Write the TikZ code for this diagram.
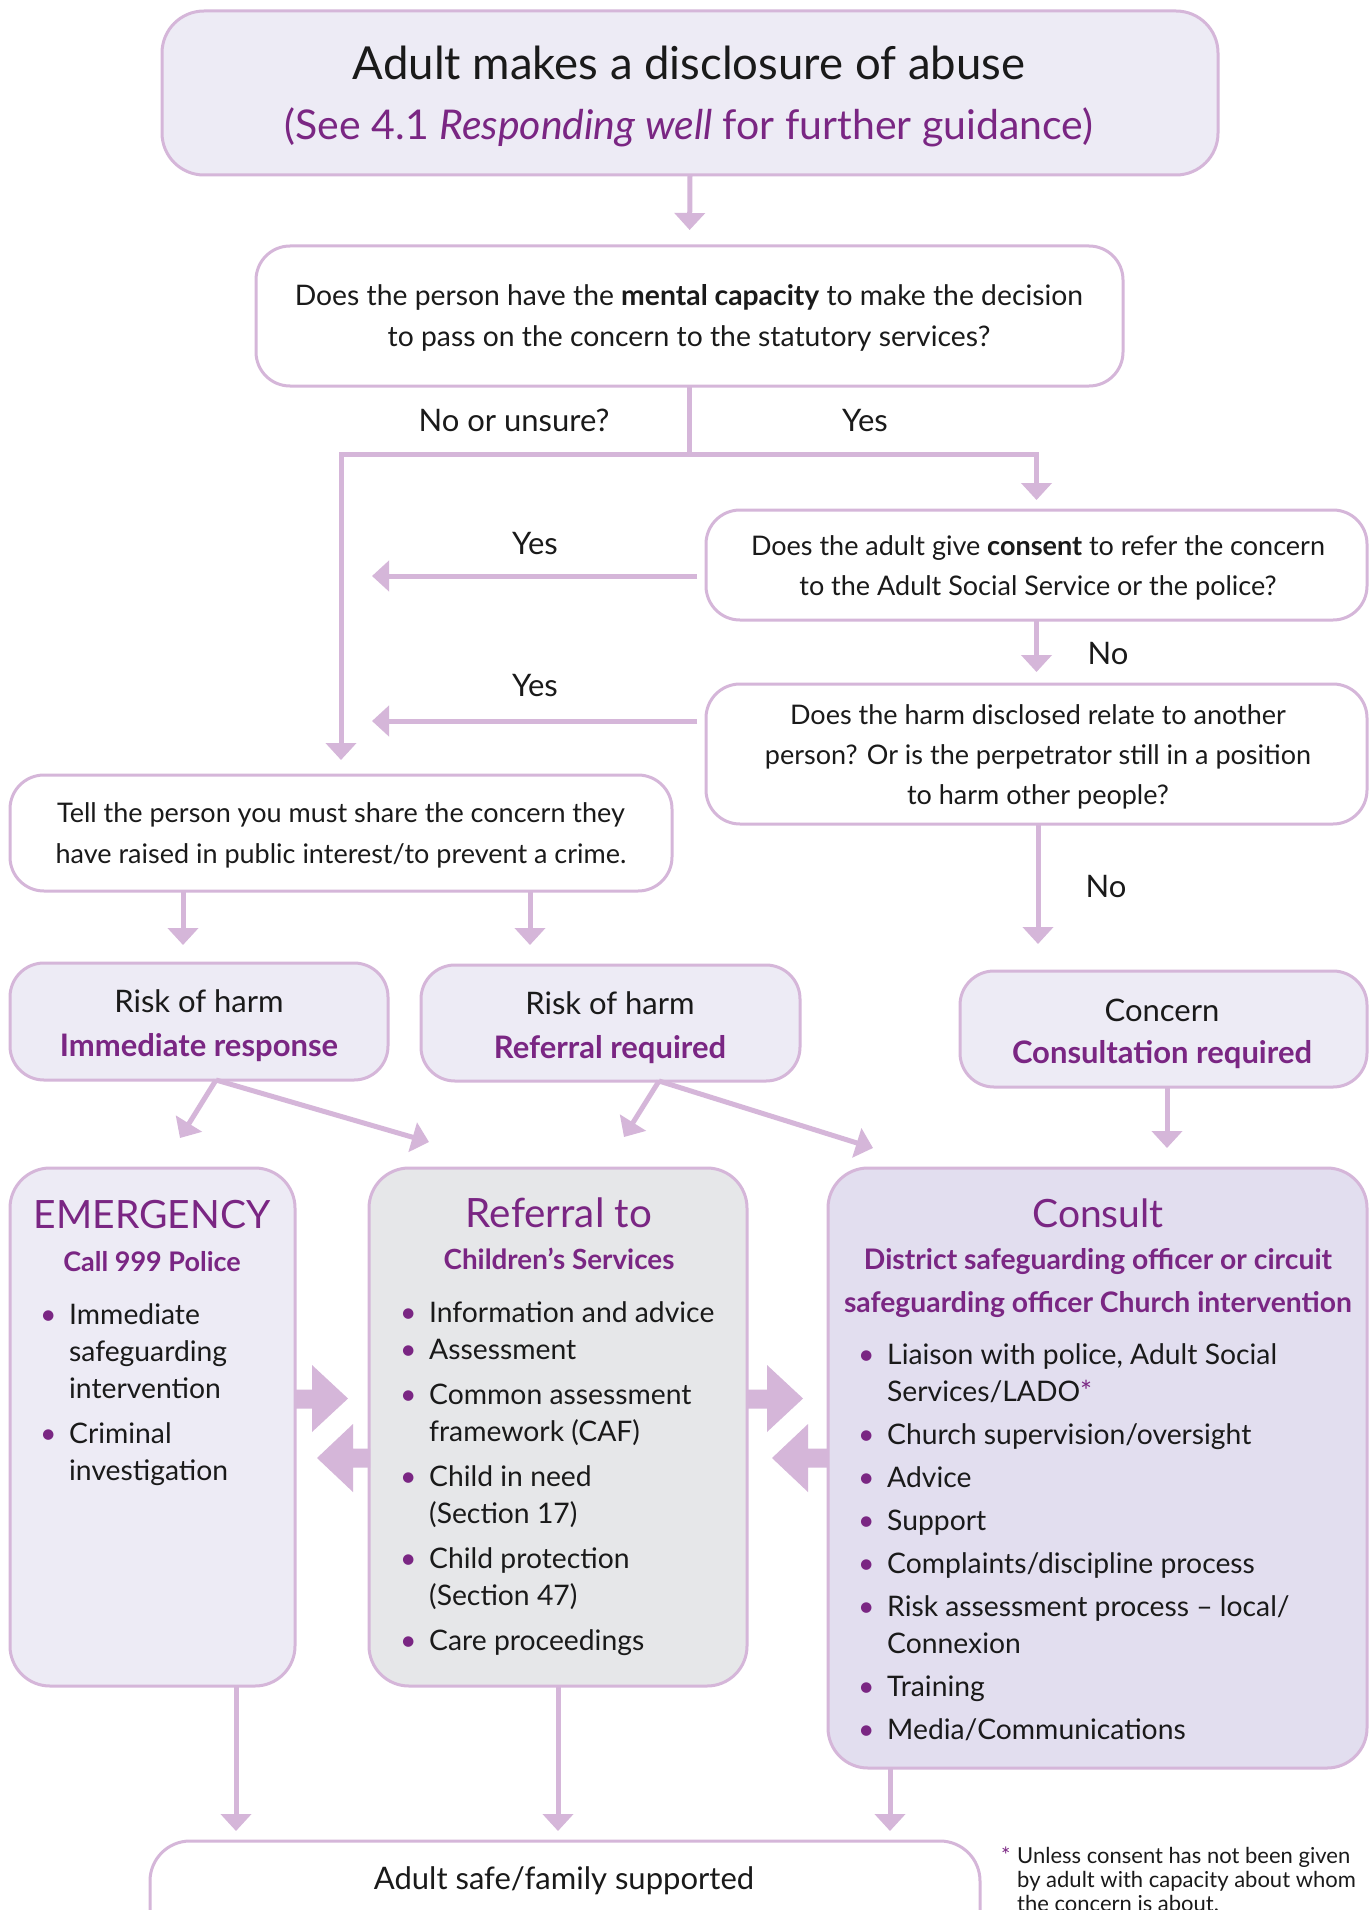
\documentclass[tikz,border=0pt]{standalone}
\usepackage{fontspec}
\setmainfont{Lato}
\usetikzlibrary{arrows.meta,calc}
\definecolor{linec}{HTML}{D5B6D9}
\definecolor{lav}{HTML}{EDEBF5}
\definecolor{lavdark}{HTML}{E2DEEF}
\definecolor{greyfill}{HTML}{E6E7E9}
\definecolor{purp}{HTML}{7A2683}
\definecolor{ink}{HTML}{1A1A1A}
\newcommand\fs[2]{\fontsize{#1}{#2}\selectfont}
\newcommand\mlines[2]{\begin{minipage}[t]{#1}\centering #2\end{minipage}}
\newcommand\bitem[1]{\par\noindent\llap{\makebox[29pt][l]{\textcolor{purp}{•}}}#1}
\newcommand\igap[1]{\par\vspace{#1}}
\newenvironment{blist}[1]{\begin{minipage}[t]{#1}\raggedright\leftskip=29pt\relax}{\end{minipage}}
\tikzset{
 box/.style={draw=linec, line width=3pt, rounded corners=34pt, inner sep=0pt, outer sep=0pt},
 conn/.style={draw=linec, line width=5pt, -{Triangle[length=17pt,width=30pt]}},
 plain/.style={draw=linec, line width=5pt},
 txt/.style={anchor=base, inner sep=0pt, text=ink},
 listtxt/.style={anchor=base west, inner sep=0pt, text=ink},
 blockarrow/.style={fill=linec},
}
\begin{document}
\begin{tikzpicture}[x=1pt,y=-1pt]
\useasboundingbox (0,0) rectangle (1370,1910);
\fill[white] (0,0) rectangle (1370,1910);
\clip (0,0) rectangle (1370,1910);

% boxes
\node[box, fill=lav, rounded corners=42pt, minimum width=1056pt, minimum height=164pt] (top) at (690,93) {};
\node[box, fill=white, minimum width=867pt, minimum height=140pt] (q1) at (689.5,316) {};
\node[box, fill=white, minimum width=661pt, minimum height=110pt] (consent) at (1036.5,565) {};
\node[box, fill=white, minimum width=661pt, minimum height=140pt] (harm) at (1036.5,754) {};
\node[box, fill=white, minimum width=662pt, minimum height=116pt] (tell) at (341,833) {};
\node[box, fill=lav, minimum width=378pt, minimum height=117pt] (risk1) at (199,1021.5) {};
\node[box, fill=lav, minimum width=379pt, minimum height=116pt] (risk2) at (610.5,1023) {};
\node[box, fill=lav, minimum width=407pt, minimum height=116pt] (concern) at (1163.5,1029) {};
\node[box, fill=lav, rounded corners=40pt, minimum width=285pt, minimum height=518pt] (emerg) at (152.5,1427) {};
\node[box, fill=greyfill, rounded corners=40pt, minimum width=378pt, minimum height=518pt] (ref) at (558,1427) {};
\node[box, fill=lavdark, rounded corners=40pt, minimum width=539pt, minimum height=600pt] (consult) at (1097.5,1468) {};
\node[box, fill=white, rounded corners=40pt, minimum width=830pt, minimum height=140pt] (bottom) at (565,1911) {};

% texts
\node[txt, font=\fs{45.5}{50}] (t1) at (689,80) {Adult makes a disclosure of abuse};
\node[txt, font=\fs{41}{46}, text=purp] (t2) at (689,140) {(See 4.1 \textit{Responding well} for further guidance)};
\node[txt, font=\fs{28.3}{41}] (q1t) at (689,305) {\mlines{860pt}{Does the person have the \textbf{mental capacity} to make the decision\\to pass on the concern to the statutory services?}};
\node[txt, font=\fs{31}{34}] (lno) at (514,431) {No or unsure?};
\node[txt, font=\fs{31}{34}] (lyes) at (865,431) {Yes};
\node[txt, font=\fs{31}{34}] (lyes1) at (535,554) {Yes};
\node[txt, font=\fs{31}{34}] (lno1) at (1108,664) {No};
\node[txt, font=\fs{31}{34}] (lyes2) at (535,696) {Yes};
\node[txt, font=\fs{31}{34}] (lno2) at (1106,897) {No};
\node[txt, font=\fs{27}{40}] (ct) at (1038,555) {\mlines{650pt}{Does the adult give \textbf{consent} to refer the concern\\to the Adult Social Service or the police?}};
\node[txt, font=\fs{27}{40}] (ht) at (1038,724) {\mlines{650pt}{Does the harm disclosed relate to another\\person? Or is the perpetrator still in a position\\to harm other people?}};
\node[txt, font=\fs{27}{41}] (tt) at (341,822) {\mlines{650pt}{Tell the person you must share the concern they\\have raised in public interest/to prevent a crime.}};
\node[txt, font=\fs{31}{44}] (r1t) at (199,1012) {\mlines{370pt}{Risk of harm\\\textbf{\textcolor{purp}{Immediate response}}}};
\node[txt, font=\fs{31}{44}] (r2t) at (610,1014) {\mlines{370pt}{Risk of harm\\\textbf{\textcolor{purp}{Referral required}}}};
\node[txt, font=\fs{31}{42}] (cot) at (1162,1021) {\mlines{400pt}{Concern\\\textbf{\textcolor{purp}{Consultation required}}}};

\node[txt, font=\fs{39}{46}, text=purp] (eh) at (152,1228) {EMERGENCY};
\node[txt, font=\bfseries\fs{27}{36}, text=purp] (es) at (152,1271) {Call 999 Police};
\node[txt, font=\fs{40.4}{44}, text=purp] (rh) at (559,1227) {Referral to};
\node[txt, font=\bfseries\fs{27.8}{36}, text=purp] (rs) at (559,1269) {Children’s Services};
\node[txt, font=\fs{39}{44}, text=purp] (kh) at (1098,1227) {Consult};
\node[txt, font=\bfseries\fs{28.3}{43}, text=purp] (ks) at (1098,1269) {\mlines{540pt}{District safeguarding officer or circuit\\safeguarding officer Church intervention}};

\node[listtxt, font=\fs{28.3}{37}] (el) at (40,1324) {\begin{blist}{255pt}
\bitem{Immediate\\safeguarding\\intervention}\igap{8pt}
\bitem{Criminal\\investigation}\end{blist}};
\node[listtxt, font=\fs{28.3}{37}] (rl) at (400,1322) {\begin{blist}{345pt}
\bitem{Information and advice}
\bitem{Assessment}\igap{8pt}
\bitem{Common assessment\\framework (CAF)}\igap{8pt}
\bitem{Child in need\\(Section 17)}\igap{8pt}
\bitem{Child protection\\(Section 47)}\igap{8pt}
\bitem{Care proceedings}\end{blist}};
\node[listtxt, font=\fs{28.3}{37}] (kl) at (858,1364) {\begin{blist}{500pt}
\bitem{Liaison with police, Adult Social\\Services/LADO\textcolor{purp}{*}}\igap{6pt}
\bitem{Church supervision/oversight}\igap{6pt}
\bitem{Advice}\igap{6pt}
\bitem{Support}\igap{6pt}
\bitem{Complaints/discipline process}\igap{6pt}
\bitem{Risk assessment process – local/\\Connexion}\igap{6pt}
\bitem{Training}\igap{6pt}
\bitem{Media/Communications}\end{blist}};

\node[txt, font=\fs{31}{34}] (bt) at (564,1889) {Adult safe/family supported};
\node[listtxt, font=\fs{22}{24}] (fn) at (1001,1863) {\begin{minipage}[t]{370pt}\raggedright\leftskip=16pt\relax\noindent\llap{\makebox[16pt][l]{\textcolor{purp}{*}}}Unless consent has not been given\\by adult with capacity about whom\\the concern is about.\end{minipage}};

% connectors
\draw[conn, shorten >=16pt] (top.south) -- (q1.north);
\coordinate (split) at (689.5,454);
\draw[plain] (q1.south) -- (split);
\draw[conn, shorten >=10pt] (split) -| (consent.north);
\draw[conn, shorten >=15pt] (split) -| (tell.north);
\coordinate (yes1) at (372,576);
\coordinate (yes2) at (372,721);
\draw[conn] ($(consent.west |- yes1)+(-9,0)$) -- (yes1);
\draw[conn] ($(harm.west |- yes2)+(-9,0)$) -- (yes2);
\draw[conn, shorten >=12pt] (consent.south) -- (harm.north);
\coordinate (noend) at (1038,944);
\draw[conn] (harm.south -| noend) -- (noend);
\coordinate (r1) at (183,945);
\coordinate (r2) at (530,945);
\draw[conn] (tell.south -| r1) -- (r1);
\draw[conn] (tell.south -| r2) -- (r2);
\coordinate (d1) at (216,1082);
\coordinate (d2) at (659,1083);
\coordinate (d1a) at (180,1138);
\coordinate (d1b) at (429,1142);
\coordinate (d2a) at (624,1137);
\coordinate (d2b) at (873,1148);
\draw[conn] (risk1.south -| d1) -- (d1a);
\draw[conn] (risk1.south -| d1) -- (d1b);
\draw[conn] (risk2.south -| d2) -- (d2a);
\draw[conn] (risk2.south -| d2) -- (d2b);
\draw[conn] ($(concern.south)+(3.5,0)$) -- ++(0,61);
\coordinate (b1) at (236,1831);
\coordinate (b3) at (890,1831);
\draw[conn] (emerg.south -| b1) -- (b1);
\draw[conn] (ref.south) -- (ref.south |- b1);
\draw[conn] (consult.south -| b3) -- (b3);

% block arrows between the three action boxes
\fill[blockarrow] (295,1389.5) -- (312,1389.5) -- (312,1365) -- (348,1398.5) -- (312,1432) -- (312,1408.5) -- (295,1408.5) -- cycle;
\fill[blockarrow] (370,1448.5) -- (353,1448.5) -- (353,1424) -- (317,1458) -- (353,1492) -- (353,1467.5) -- (370,1467.5) -- cycle;
\fill[blockarrow] (747,1389.5) -- (767,1389.5) -- (767,1365) -- (803,1398.5) -- (767,1432) -- (767,1408.5) -- (747,1408.5) -- cycle;
\fill[blockarrow] (828,1448.5) -- (808,1448.5) -- (808,1424) -- (772,1458) -- (808,1492) -- (808,1467.5) -- (828,1467.5) -- cycle;
\end{tikzpicture}
\end{document}
